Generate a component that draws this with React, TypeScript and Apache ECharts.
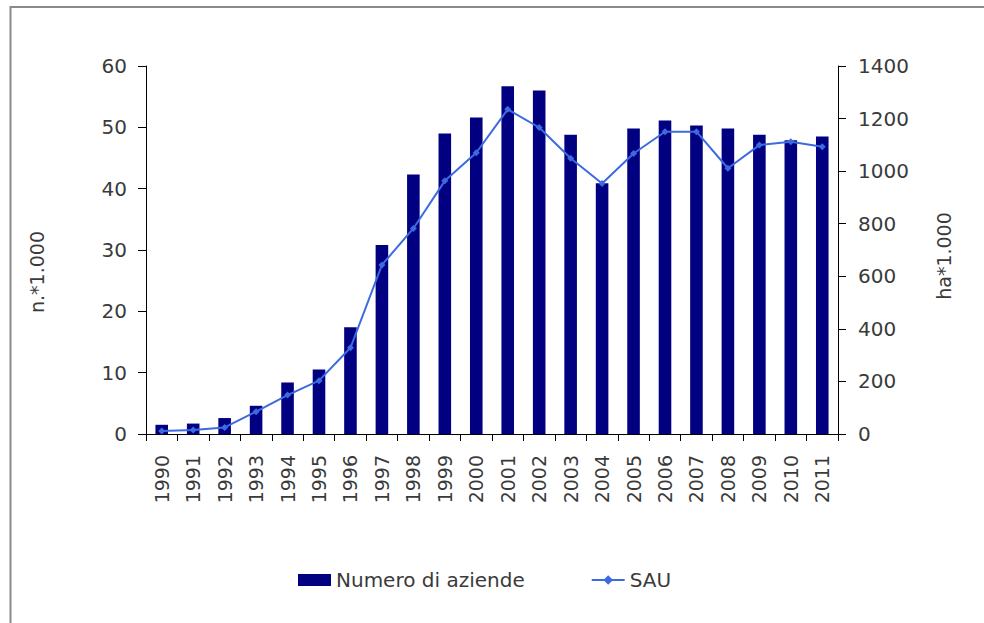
import React, { useEffect, useRef } from "react";
import * as echarts from "echarts";

const years = ["1990","1991","1992","1993","1994","1995","1996","1997","1998","1999","2000","2001","2002","2003","2004","2005","2006","2007","2008","2009","2010","2011"];
const aziende = [1.5, 1.7, 2.6, 4.6, 8.4, 10.5, 17.4, 30.8, 42.3, 49.0, 51.6, 56.7, 56.0, 48.8, 40.9, 49.8, 51.1, 50.3, 49.8, 48.8, 47.9, 48.5];
const sau = [11, 15, 25, 85, 148, 203, 328, 643, 782, 963, 1070, 1235, 1166, 1049, 953, 1067, 1150, 1150, 1011, 1099, 1112, 1093];
const leftTicks = { min: 0, max: 60, interval: 10 };
const rightTicks = { min: 0, max: 1400, interval: 200 };

const FONT = "DejaVu Sans";
const TXT = "#3a3a3a";

export default function App() {
  const ref = useRef<HTMLDivElement>(null);
  useEffect(() => {
    if (!ref.current) return;
    const chart = echarts.init(ref.current, null, { renderer: "svg" });
    chart.setOption({
      animation: false,
      backgroundColor: "#ffffff",
      textStyle: { fontFamily: FONT },
      graphic: [
        {
          type: "polyline",
          shape: { points: [[10.5, 640], [10.5, 7], [1000, 7]] },
          style: { stroke: "#8a8a8a", lineWidth: 2, fill: "none" },
          silent: true,
        },
      ],
      legend: {
        left: 293,
        top: 565,
        itemWidth: 33,
        itemHeight: 12,
        itemGap: 66,
        textStyle: { fontSize: 20, color: TXT, fontFamily: FONT },
        data: [
          { name: "Numero di aziende", icon: "rect" },
          { name: "SAU" },
        ],
      },
      grid: { left: 146, right: 146, top: 66, bottom: 189 },
      xAxis: {
        type: "category",
        data: years,
        boundaryGap: true,
        axisLine: { lineStyle: { color: "#000", width: 1 } },
        axisTick: { show: true, length: 7, lineStyle: { color: "#000" } },
        axisLabel: { rotate: 90, margin: 21, fontSize: 19, color: TXT, fontFamily: FONT },
      },
      yAxis: [
        {
          type: "value",
          ...leftTicks,
          position: "left",
          name: "n.*1.000",
          nameLocation: "middle",
          nameRotate: 90,
          nameGap: 100,
          nameTextStyle: { fontSize: 19, color: TXT, fontFamily: FONT, padding: [0, 44, 0, 0] },
          axisLine: { show: true, lineStyle: { color: "#000", width: 1 } },
          axisTick: { show: true, length: 8, lineStyle: { color: "#000" } },
          splitLine: { show: false },
          axisLabel: { fontSize: 20, color: TXT, margin: 19, fontFamily: FONT },
        },
        {
          type: "value",
          ...rightTicks,
          position: "right",
          name: "ha*1.000",
          nameLocation: "middle",
          nameRotate: 90,
          nameGap: 96,
          nameTextStyle: { fontSize: 19, color: TXT, fontFamily: FONT, padding: [0, 12, 0, 0] },
          axisLine: { show: true, lineStyle: { color: "#000", width: 1 } },
          axisTick: { show: true, length: 8, lineStyle: { color: "#000" } },
          splitLine: { show: false },
          axisLabel: { fontSize: 20, color: TXT, margin: 20, fontFamily: FONT, formatter: (v: number) => String(v) },
        },
      ],
      series: [
        {
          name: "Numero di aziende",
          type: "bar",
          data: aziende,
          yAxisIndex: 0,
          barWidth: "40%",
          itemStyle: { color: "#000080" },
        },
        {
          name: "SAU",
          type: "line",
          data: sau,
          yAxisIndex: 1,
          symbol: "diamond",
          symbolSize: 7,
          lineStyle: { color: "#3d6ae0", width: 2 },
          itemStyle: { color: "#3d6ae0" },
        },
      ],
    });
    return () => chart.dispose();
  }, []);
  return <div ref={ref} style={{ position: "fixed", left: 0, top: 0, width: 984, height: 623 }} />;
}
